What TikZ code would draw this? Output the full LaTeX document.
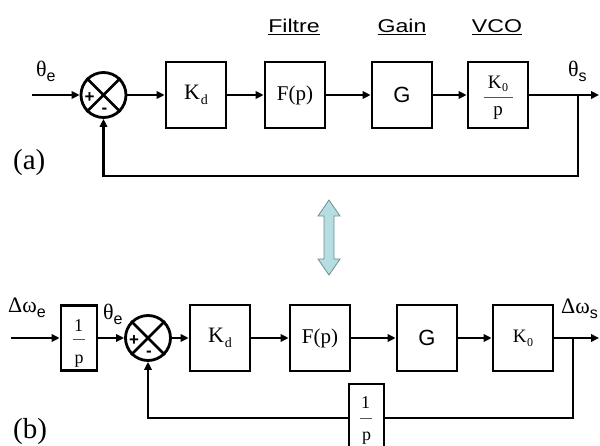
\documentclass[tikz,border=0pt]{standalone}
\usepackage{fontspec}
\setmainfont{Liberation Serif}
\setsansfont{Liberation Sans}
\usetikzlibrary{arrows.meta}
\definecolor{arrfill}{HTML}{B6DDE0}
\definecolor{arrline}{HTML}{6A8F95}
\definecolor{barc}{HTML}{555555}
\begin{document}
\begin{tikzpicture}[x=1pt,y=-1pt,
 blk/.style={draw,line width=2.8pt,minimum width=60pt,minimum height=66pt,inner sep=0pt,font=\fontsize{21}{21}\selectfont},
 ln/.style={line width=2.3pt},
 arr/.style={ln,-{Triangle[length=8pt,width=7.5pt]}},
 sumc/.style={draw,circle,line width=2.8pt,minimum size=45pt,inner sep=0pt},
 lbl/.style={inner sep=0pt,font=\fontsize{22}{22}\selectfont},
 small/.style={inner sep=0pt,font=\fontsize{18}{18}\selectfont},
 sgn/.style={inner sep=0pt,font=\sffamily\bfseries\fontsize{17}{17}\selectfont},
 hdr/.style={inner sep=0pt,anchor=base,font=\sffamily\fontsize{18.5}{18.5}\selectfont},
 tag/.style={inner sep=0pt,anchor=base west,font=\fontsize{29}{29}\selectfont},
 fbar/.style={line width=0.9pt,draw=barc},
]
\useasboundingbox (0,0) rectangle (600,446);

% ---------------- (a) ----------------
\node[hdr] (hf) at (294,33) {\scalebox{1.25}[1]{\underline{Filtre}}};
\node[hdr] (hg) at (402,33) {\scalebox{1.25}[1]{\underline{Gain}}};
\node[hdr] (hv) at (497,33) {\scalebox{1.25}[1]{\underline{VCO}}};

\coordinate (in1) at (32,95);
\node[sumc] (sum1) at (103.5,95) {};
\draw[line width=2.6pt] (sum1.45) -- (sum1.225) (sum1.135) -- (sum1.315);
\node[sgn] (p1) at (89.5,97.5) {+};
\node[sgn] (m1) at (104.5,110.5) {-};
\node[blk] (kd1) at (196,95) {\fontsize{22}{22}\selectfont K\kern1pt\raisebox{-5pt}{\fontsize{14}{14}\selectfont d}};
\node[blk] (f1) at (295,95) {F(p)};
\node[blk,font=\sffamily\fontsize{22}{22}\selectfont] (g1) at (402,95) {G};
\node[blk] (vco1) at (498,95) {};
\node[small,anchor=base,font=\fontsize{19}{19}\selectfont] (vk) at (498,89) {K\kern0.5pt\raisebox{-3pt}{\fontsize{12}{12}\selectfont 0}};
\draw[fbar] (484,97) -- (513,97);
\node[small,anchor=base,font=\fontsize{19}{19}\selectfont] (vp) at (498,116) {p};
\coordinate (b1) at (578,95);
\coordinate (out1) at (599,95);
\coordinate (c1) at (578,176);
\coordinate (c2) at (103.5,176);

\draw[arr] (in1) -- (sum1.west);
\draw[arr] (sum1.east) -- (kd1.west);
\draw[arr] (kd1.east) -- (f1.west);
\draw[arr] (f1.east) -- (g1.west);
\draw[arr] (g1.east) -- (vco1.west);
\draw[arr] (vco1.east) -- (out1);
\draw[arr] (b1) -- (c1) -- (c2) -- (sum1.south);

\node[lbl,anchor=base west] (te1) at (36,77) {θ\raisebox{-5pt}{\sffamily\fontsize{16}{16}\selectfont e}};
\node[lbl,anchor=base west] (ts1) at (568,77) {θ\raisebox{-5pt}{\sffamily\fontsize{16}{16}\selectfont s}};
\node[tag] (ta) at (13,170) {(a)};

% double arrow
\draw[fill=arrfill,draw=arrline,line width=0.8pt,line join=miter]
 (329,200) -- (340,216) -- (334,216) -- (334,259) -- (340,259) -- (329,275)
 -- (318,259) -- (324,259) -- (324,216) -- (318,216) -- cycle;

% ---------------- (b) ----------------
\coordinate (in2) at (11,338);
\node[blk,minimum width=36pt,minimum height=65pt] (ip1) at (79,338) {};
\node[small,anchor=base] (ip1n) at (78.5,332) {1};
\draw[fbar] (72.5,339) -- (84.5,339);
\node[small,anchor=base] (ip1d) at (79,363) {p};
\node[sumc] (sum2) at (148,338) {};
\draw[line width=2.6pt] (sum2.45) -- (sum2.225) (sum2.135) -- (sum2.315);
\node[sgn] (p2) at (134,340.5) {+};
\node[sgn] (m2) at (149,353.5) {-};
\node[blk] (kd2) at (220,338) {\fontsize{22}{22}\selectfont K\kern1pt\raisebox{-5pt}{\fontsize{14}{14}\selectfont d}};
\node[blk] (f2) at (320,338) {F(p)};
\node[blk,font=\sffamily\fontsize{22}{22}\selectfont] (g2) at (427,338) {G};
\node[blk] (k02) at (523,338) {\fontsize{19}{19}\selectfont K\kern0.5pt\raisebox{-4pt}{\fontsize{12}{12}\selectfont 0}};
\coordinate (b2) at (573,338);
\coordinate (out2) at (599,338);
\coordinate (c3) at (573,418);
\node[blk,minimum width=35pt,minimum height=68pt] (ip2) at (366.5,418) {};
\node[small,anchor=base] (ip2n) at (365.5,409) {1};
\draw[fbar] (359.5,418) -- (372,418);
\node[small,anchor=base] (ip2d) at (366.5,440) {p};
\coordinate (c4) at (148,418);

\draw[arr] (in2) -- (ip1.west);
\draw[arr] (ip1.east) -- (sum2.west);
\draw[arr] (sum2.east) -- (kd2.west);
\draw[arr] (kd2.east) -- (f2.west);
\draw[arr] (f2.east) -- (g2.west);
\draw[arr] (g2.east) -- (k02.west);
\draw[arr] (k02.east) -- (out2);
\draw[ln] (b2) -- (c3) -- (ip2.east);
\draw[arr] (ip2.west) -- (c4) -- (sum2.south);

\node[lbl,anchor=base west] (dwe) at (8,313) {Δω\raisebox{-5pt}{\sffamily\fontsize{16}{16}\selectfont e}};
\node[lbl,anchor=base west] (te2) at (103,320) {θ\raisebox{-5pt}{\sffamily\fontsize{16}{16}\selectfont e}};
\node[lbl,anchor=base west] (dws) at (561,314) {Δω\raisebox{-5pt}{\sffamily\fontsize{16}{16}\selectfont s}};
\node[tag] (tb) at (13,438) {(b)};
\end{tikzpicture}
\end{document}
